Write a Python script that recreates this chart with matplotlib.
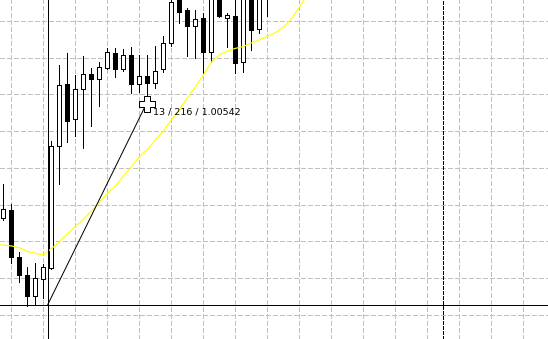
import numpy as np
import matplotlib.pyplot as plt

plt.rcParams['lines.scale_dashes'] = False

# OHLC, one entry per bar (bar 0 is the leftmost visible candle)
opens  = [1.00417, 1.00426, 1.00375, 1.00355, 1.00332, 1.00351, 1.00363, 1.00496,
          1.00563, 1.00525, 1.00558, 1.00574, 1.00569, 1.00581, 1.00597, 1.00580,
          1.00595, 1.00563, 1.00572, 1.00564, 1.00580, 1.00608, 1.00658, 1.00644,
          1.00626, 1.00635, 1.00598, 1.00660, 1.00635, 1.00637, 1.00587, 1.00660,
          1.00623, 1.00662]
highs  = [1.00454, 1.00433, 1.00380, 1.00364, 1.00368, 1.00367, 1.00501, 1.00584,
          1.00597, 1.00573, 1.00594, 1.00581, 1.00587, 1.00602, 1.00602, 1.00601,
          1.00603, 1.00595, 1.00595, 1.00605, 1.00615, 1.00663, 1.00663, 1.00646,
          1.00644, 1.00641, 1.00666, 1.00666, 1.00640, 1.00666, 1.00666, 1.00666,
          1.00666, 1.00680]
lows   = [1.00415, 1.00368, 1.00348, 1.00322, 1.00323, 1.00330, 1.00362, 1.00454,
          1.00500, 1.00507, 1.00494, 1.00518, 1.00539, 1.00580, 1.00571, 1.00577,
          1.00553, 1.00555, 1.00546, 1.00559, 1.00576, 1.00605, 1.00630, 1.00594,
          1.00592, 1.00575, 1.00587, 1.00636, 1.00603, 1.00575, 1.00576, 1.00600,
          1.00619, 1.00637]
closes = [1.00427, 1.00375, 1.00355, 1.00332, 1.00352, 1.00364, 1.00496, 1.00562,
          1.00523, 1.00558, 1.00574, 1.00569, 1.00582, 1.00598, 1.00580, 1.00595,
          1.00563, 1.00572, 1.00564, 1.00577, 1.00608, 1.00652, 1.00642, 1.00626,
          1.00634, 1.00598, 1.00660, 1.00637, 1.00638, 1.00586, 1.00660, 1.00622,
          1.00660, 1.00672]

# moving average, starting one bar left of the first candle
ma_first_bar = -1
ma = [1.00388, 1.00388, 1.00387, 1.00385, 1.00381, 1.00379, 1.00377, 1.00384,
      1.00391, 1.00400, 1.00408, 1.00416, 1.00425, 1.00434, 1.00444, 1.00452,
      1.00463, 1.00473, 1.00484, 1.00492, 1.00502, 1.00512, 1.00524, 1.00535,
      1.00548, 1.00560, 1.00573, 1.00587, 1.00595, 1.00599, 1.00602, 1.00604,
      1.00608, 1.00611, 1.00615, 1.00619, 1.00625, 1.00634, 1.00647, 1.00660]

# ruler tool: from (bar, price) to (bar, price)
ruler_start = (5.55, 1.00323)
ruler_end = (17.9, 1.00542)
ruler_label = '13 / 216 / 1.00542'
separator_bar = 55

grid_base, grid_step = 1.00552, 0.0004

W, H = 548, 339
BAR_PX = 8
PX = 0.0004 / 36.75          # price per pixel
LW = 0.72                    # one pixel

fig = plt.figure(figsize=(W / 100, H / 100), dpi=100)
ax = fig.add_axes([0, 0, 1, 1])

for s in ax.spines.values():
    s.set_visible(False)
ax.set_xticks(np.arange(1, 70, 4))
ax.set_yticks(grid_base + grid_step * np.arange(-7, 4))
ax.tick_params(length=0, labelbottom=False, labelleft=False)
ax.grid(True, color='#c0c0c0', linestyle=(0, (3, 1.6)), linewidth=LW, antialiased=False)
ax.set_axisbelow(True)

o = np.array(opens)
c = np.array(closes)
bars = np.arange(len(o))
up = c >= o

ax.vlines(bars, lows, highs, color='black', lw=LW, zorder=2, antialiased=False)
ax.bar(bars, np.maximum(np.abs(c - o), PX * 0.5), bottom=np.minimum(o, c), width=0.5,
       color=np.where(up, 'white', 'black'), edgecolor='black', linewidth=LW,
       zorder=3, antialiased=False)

ax.plot(np.arange(len(ma)) + ma_first_bar, ma, color='#ffff00', lw=0.85, zorder=4)

ax.axvline(separator_bar, color='black', lw=LW, linestyle=(0, (2.2, 1.4)), zorder=4,
           antialiased=False)

# ruler crosshair and line
ax.axhline(ruler_start[1], color='black', lw=LW, zorder=5, antialiased=False)
ax.axvline(ruler_start[0], color='black', lw=LW, zorder=5, antialiased=False)
ax.plot([ruler_start[0], ruler_end[0]], [ruler_start[1], ruler_end[1]],
        color='black', lw=LW, zorder=5)
ax.plot(*ruler_end, marker='P', ms=12, mfc='white', mec='black', mew=LW, zorder=6)
ax.annotate(ruler_label, ruler_end, xytext=(5, -6), textcoords='offset points',
            ha='left', va='center', fontsize=6.8, color='black', zorder=7)

# limits last, so the ticks do not widen them
x_left = -3.3 / BAR_PX
ax.set_xlim(x_left, x_left + W / BAR_PX)
y_top = 1.00542 + 103.5 * PX
ax.set_ylim(y_top - H * PX, y_top)

fig.savefig('out.png', dpi=100)
